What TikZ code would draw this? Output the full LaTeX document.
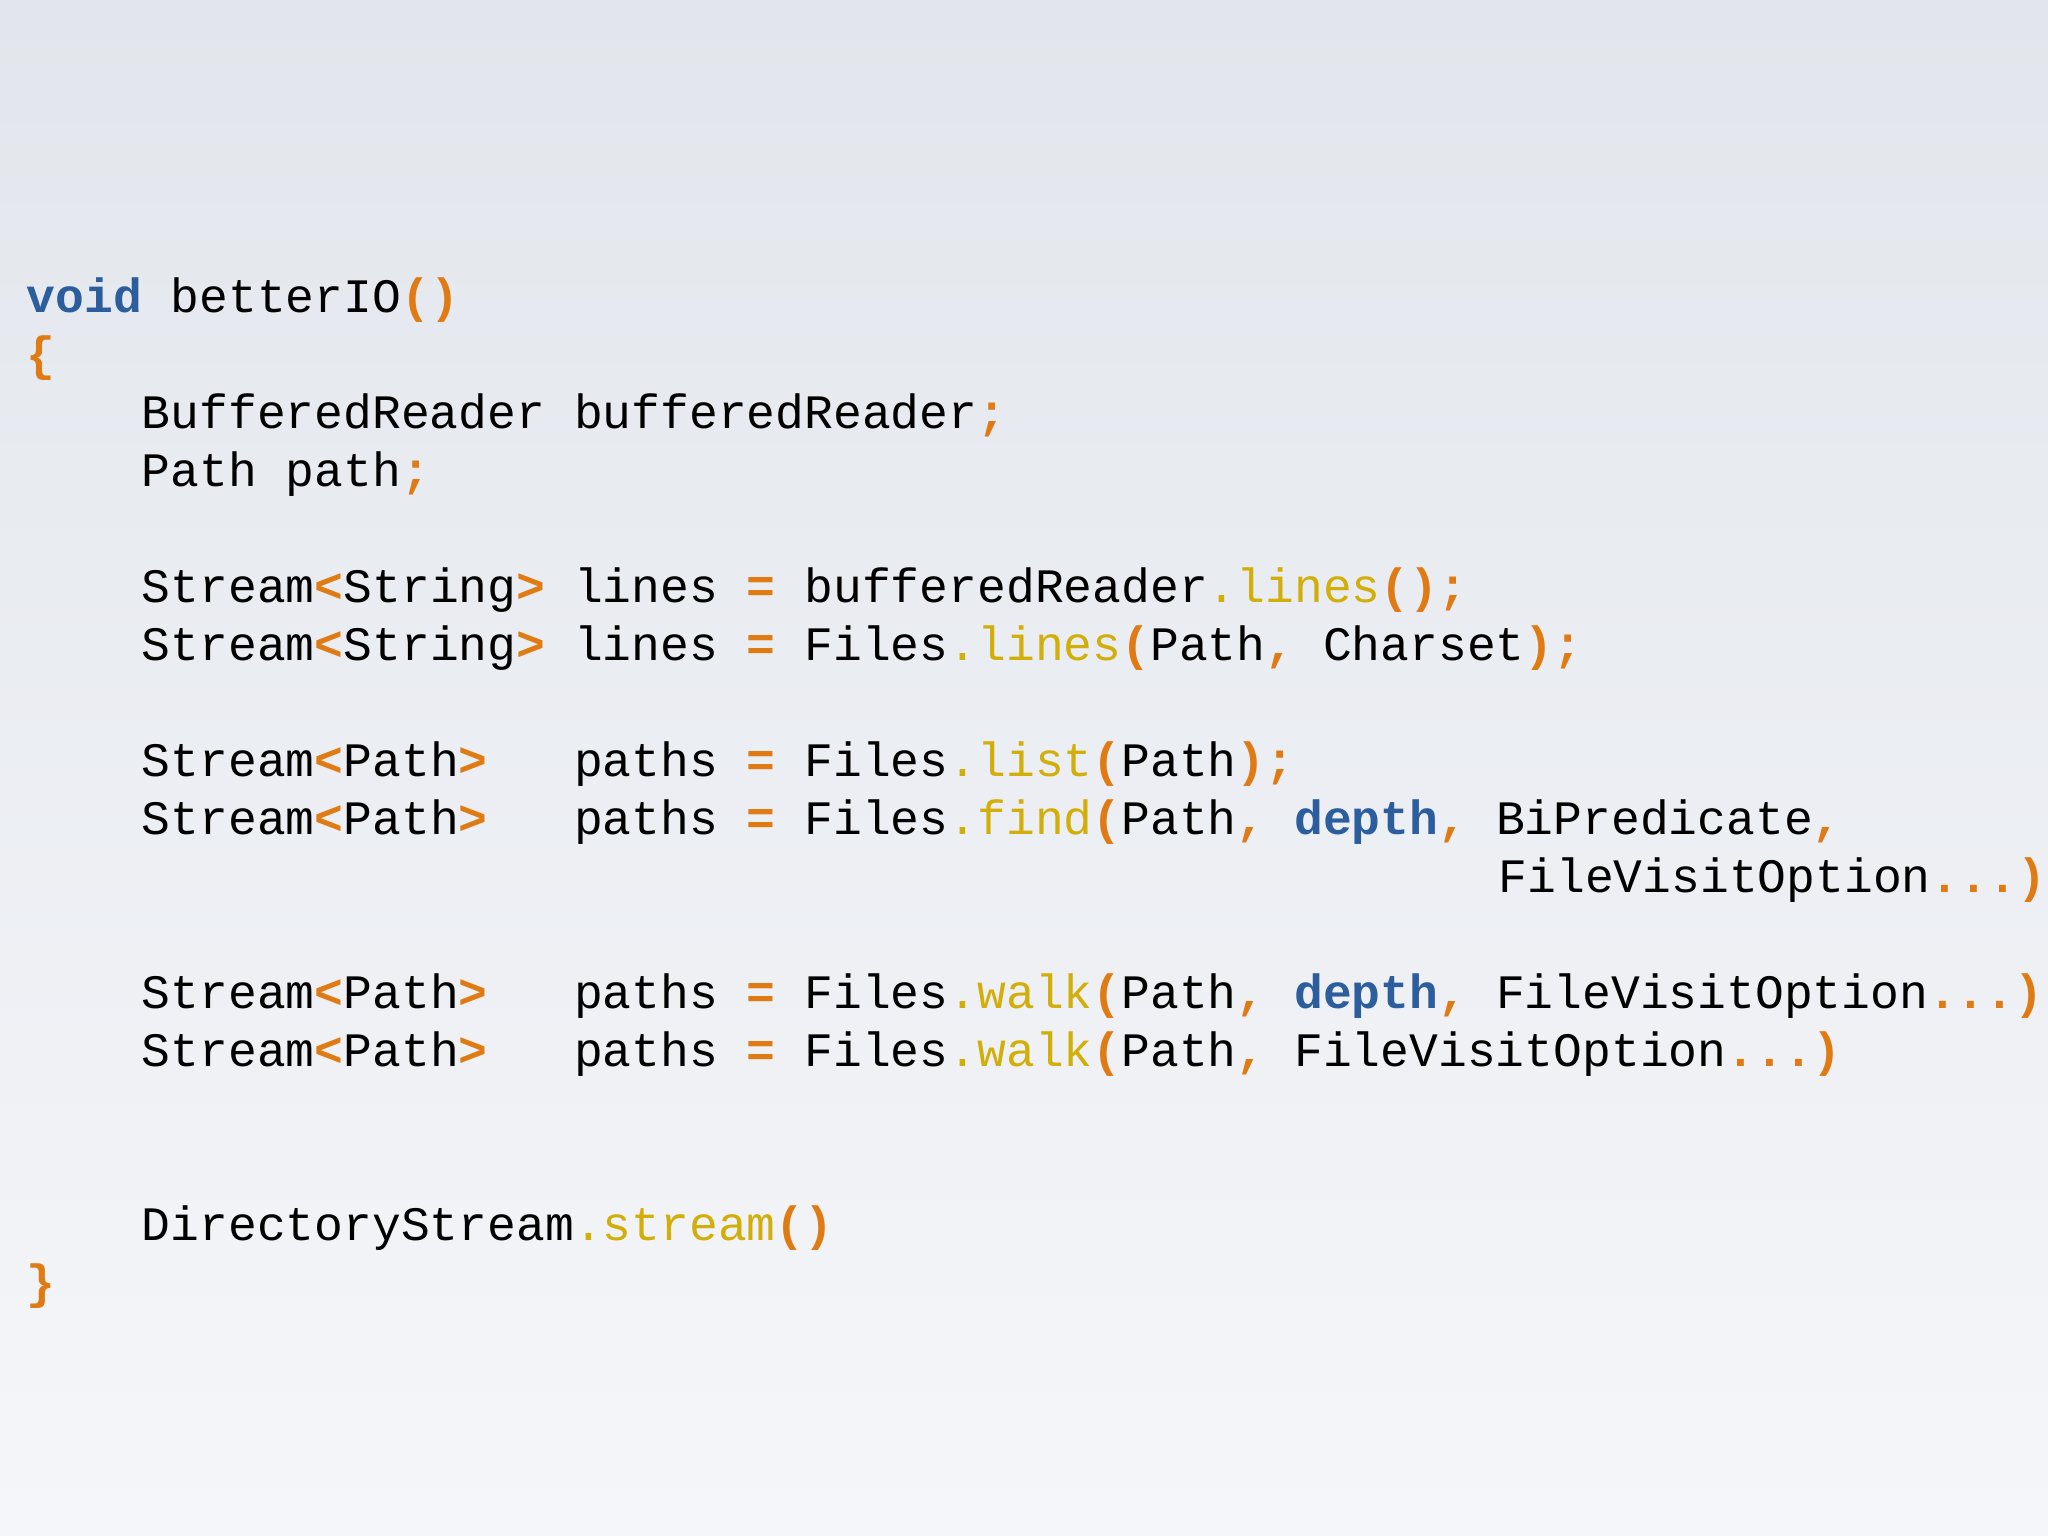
\documentclass[tikz,border=0pt]{standalone}
\usepackage{fontspec}
\setmonofont{Liberation Mono}
\definecolor{kb}{HTML}{2C5E9E}
\definecolor{ko}{HTML}{E07A12}
\definecolor{ky}{HTML}{D2AE08}
\definecolor{bgt}{HTML}{E2E6EC}
\definecolor{bgb}{HTML}{F5F6F9}
\newcommand\kw[1]{{\bfseries\color{kb}#1}}
\newcommand\op[1]{{\bfseries\color{ko}#1}}
\newcommand\fn[1]{{\color{ky}#1}}
\begin{document}
\begin{tikzpicture}[code/.style={anchor=base west,inner sep=0pt,font=\ttfamily\fontsize{13.66pt}{16pt}\selectfont,text=black}]
\shade[top color=bgt,bottom color=bgb] (0,0) rectangle (20.48,15.36);
\useasboundingbox (0,0) rectangle (20.48,15.36);
\def\Y#1{12.23-#1*0.58}
\node[code] (l0) at (0.26,{\Y{0}}) {\kw{void} betterIO\op{()}};
\node[code] (l1) at (0.26,{\Y{1}}) {\op{\{}};
\node[code] (l2) at (0.26,{\Y{2}}) {\ \ \ \ BufferedReader bufferedReader\op{;}};
\node[code] (l3) at (0.26,{\Y{3}}) {\ \ \ \ Path path\op{;}};
\node[code] (l5) at (0.26,{\Y{5}}) {\ \ \ \ Stream\op{<}String\op{>} lines \op{=} bufferedReader\fn{.lines}\op{();}};
\node[code] (l6) at (0.26,{\Y{6}}) {\ \ \ \ Stream\op{<}String\op{>} lines \op{=} Files\fn{.lines}\op{(}Path\op{,} Charset\op{);}};
\node[code] (l8) at (0.26,{\Y{8}}) {\ \ \ \ Stream\op{<}Path\op{>}\ \ \ paths \op{=} Files\fn{.list}\op{(}Path\op{);}};
\node[code] (l9) at (0.26,{\Y{9}}) {\ \ \ \ Stream\op{<}Path\op{>}\ \ \ paths \op{=} Files\fn{.find}\op{(}Path\op{,} \kw{depth}\op{,} BiPredicate\op{,}};
\node[code] (l10) at ({0.26+51*0.2886},{\Y{10}}) {FileVisitOption\op{...)}};
\node[code] (l12) at (0.26,{\Y{12}}) {\ \ \ \ Stream\op{<}Path\op{>}\ \ \ paths \op{=} Files\fn{.walk}\op{(}Path\op{,} \kw{depth}\op{,} FileVisitOption\op{...)}};
\node[code] (l13) at (0.26,{\Y{13}}) {\ \ \ \ Stream\op{<}Path\op{>}\ \ \ paths \op{=} Files\fn{.walk}\op{(}Path\op{,} FileVisitOption\op{...)}};
\node[code] (l16) at (0.26,{\Y{16}}) {\ \ \ \ DirectoryStream\fn{.stream}\op{()}};
\node[code] (l17) at (0.26,{\Y{17}}) {\op{\}}};
\end{tikzpicture}
\end{document}
